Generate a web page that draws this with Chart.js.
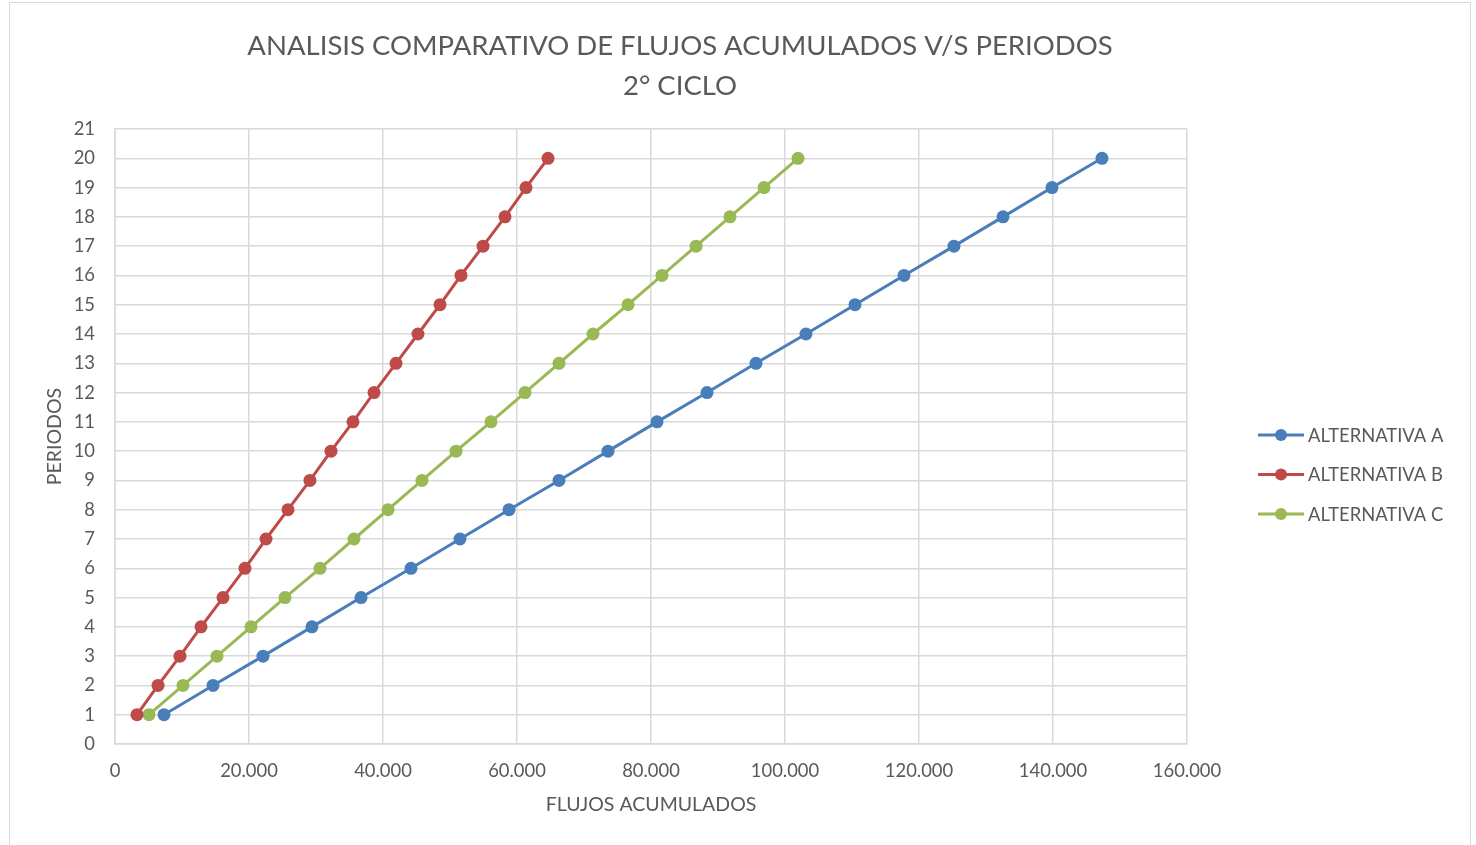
<!DOCTYPE html>
<html>
<head>
<meta charset="utf-8">
<script src="https://cdn.jsdelivr.net/npm/chart.js@4.4.0/dist/chart.umd.min.js"></script>
<style>
    html, body { margin: 0; padding: 0; background: #fff; }
    #wrap { position: relative; width: 1476px; height: 845px; }
    #marco {
        position: absolute; left: 9px; top: 2px; width: 1460px; height: 850px;
        border: 1px solid #d9d9d9; pointer-events: none;
    }
</style>
</head>
<body>
<div id="wrap">
    <canvas id="flujos" width="1476" height="845"></canvas>
    <div id="marco"></div>
</div>
<script>
const periodos = [1, 2, 3, 4, 5, 6, 7, 8, 9, 10, 11, 12, 13, 14, 15, 16, 17, 18, 19, 20];
const flujosA = [7310, 14630, 22090, 29400, 36720, 44180, 51490, 58810, 66270, 73580,
    80900, 88360, 95670, 103130, 110450, 117760, 125220, 132540, 139850, 147310];
const flujosB = [3280, 6420, 9700, 12840, 16120, 19400, 22540, 25820, 29100, 32240,
    35520, 38660, 41940, 45220, 48510, 51640, 54930, 58210, 61340, 64630];
const flujosC = [5070, 10150, 15220, 20300, 25370, 30600, 35670, 40750, 45820, 50900,
    56120, 61190, 66270, 71340, 76570, 81640, 86720, 91790, 96870, 101940];
const nombres = ["ALTERNATIVA A", "ALTERNATIVA B", "ALTERNATIVA C"];
const titulo = ["ANALISIS COMPARATIVO DE FLUJOS ACUMULADOS V/S PERIODOS", "2° CICLO"];

const fuente = "Lato, 'Open Sans', sans-serif";
const gris = "#595959";
const colores = ["#4a7ebb", "#be4b48", "#98b954"];

function puntos(xs) {
    return xs.map((v, i) => ({ x: v, y: periodos[i] }));
}

function miles(v) {
    return String(v).replace(/\B(?=(\d{3})+(?!\d))/g, ".");
}

// titulo y leyenda dibujados a mano (estilo excel)
const extras = {
    id: "extras",
    afterDraw(chart) {
        const ctx = chart.ctx;
        ctx.save();
        ctx.fillStyle = gris;
        ctx.textAlign = "center";
        ctx.textBaseline = "middle";
        ctx.font = "27.5px " + fuente;
        ctx.fillText(titulo[0], 680, 46);
        ctx.fillText(titulo[1], 680, 86);

        ctx.font = "18.4px " + fuente;
        ctx.textAlign = "left";
        chart.data.datasets.forEach(function(ds, i) {
            const y = 435 + i * 39.5;
            ctx.strokeStyle = ds.borderColor;
            ctx.lineWidth = 3;
            ctx.beginPath();
            ctx.moveTo(1258, y);
            ctx.lineTo(1304, y);
            ctx.stroke();
            ctx.fillStyle = ds.backgroundColor;
            ctx.beginPath();
            ctx.arc(1281, y, 6, 0, Math.PI * 2);
            ctx.fill();
            ctx.fillStyle = gris;
            ctx.fillText(ds.label, 1308, y + 1);
        });
        ctx.restore();
    }
};

const series = [flujosA, flujosB, flujosC];
const ctx = document.getElementById("flujos").getContext("2d");
const myChart = new Chart(ctx, {
    type: "scatter",
    data: {
        datasets: series.map(function(s, i) {
            return {
                label: nombres[i],
                data: puntos(s),
                showLine: true,
                borderColor: colores[i],
                backgroundColor: colores[i],
                borderWidth: 3,
                pointRadius: 6.5,
                pointHoverRadius: 6.5,
                pointBorderWidth: 0,
            };
        }),
    },
    plugins: [extras],
    options: {
        responsive: false,
        animation: false,
        layout: {
            padding: { top: 129, right: 289, bottom: 0, left: 0 },
        },
        plugins: {
            legend: { display: false },
            title: { display: false },
            tooltip: { enabled: false },
        },
        scales: {
            x: {
                type: "linear",
                min: 0,
                max: 160000,
                afterFit: function(scale) { scale.height = 101; },
                ticks: {
                    stepSize: 20000,
                    color: gris,
                    font: { family: fuente, size: 18.4 },
                    padding: 16,
                    maxRotation: 0,
                    callback: function(v) { return miles(v); },
                },
                grid: { color: "#d9d9d9", lineWidth: 1.5, drawTicks: false },
                border: { color: "#d9d9d9", width: 1.5 },
                title: {
                    display: true,
                    text: "FLUJOS ACUMULADOS",
                    color: gris,
                    font: { family: fuente, size: 19.5 },
                    padding: { top: 0, bottom: 29 },
                },
            },
            y: {
                min: 0,
                max: 21,
                afterFit: function(scale) { scale.width = 115; },
                ticks: {
                    stepSize: 1,
                    color: gris,
                    font: { family: fuente, size: 18.4 },
                    padding: 20,
                },
                grid: { color: "#d9d9d9", lineWidth: 1.5, drawTicks: false },
                border: { color: "#d9d9d9", width: 1.5 },
                title: {
                    display: true,
                    text: "PERIODOS",
                    color: gris,
                    font: { family: fuente, size: 19.5 },
                    padding: { top: 43, bottom: 0 },
                },
            },
        },
    },
});
</script>
</body>
</html>
